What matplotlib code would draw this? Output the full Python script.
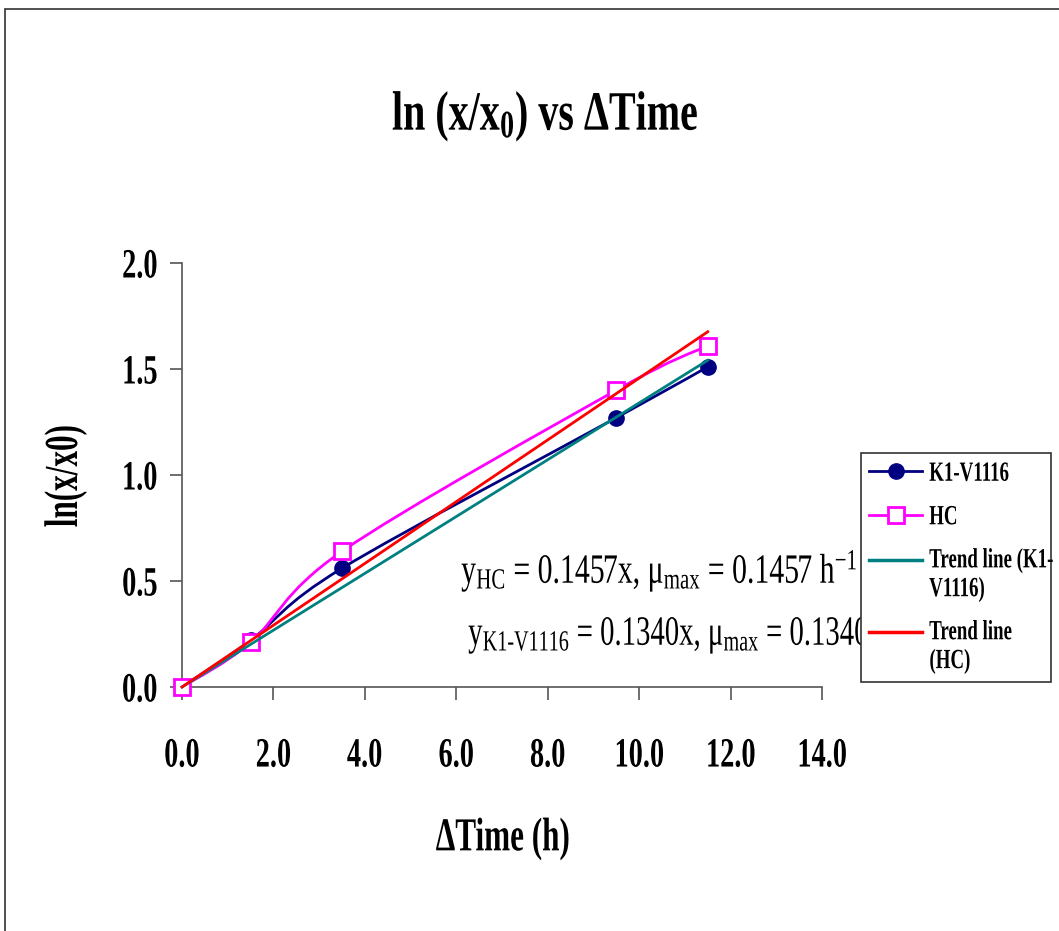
import numpy as np
import matplotlib
matplotlib.use("Agg")
import matplotlib.pyplot as plt
from matplotlib.patheffects import AbstractPathEffect
from matplotlib.transforms import Affine2D
from matplotlib.patches import Rectangle, PathPatch
from matplotlib.path import Path
from matplotlib.lines import Line2D
from matplotlib.legend_handler import HandlerLine2D

# ---------------- data ----------------
time_h = [0.0, 1.5, 3.5, 9.5, 11.5]
k1_v1116 = [0.0, 0.22, 0.56, 1.27, 1.51]
hc = [0.0, 0.21, 0.64, 1.40, 1.61]
slope_k1 = 0.1340
slope_hc = 0.1457
xticks = [0, 2, 4, 6, 8, 10, 12, 14]
xtick_labels = ["0.0", "2.0", "4.0", "6.0", "8.0", "10.0", "12.0", "14.0"]
yticks = [0.0, 0.5, 1.0, 1.5, 2.0]
ytick_labels = ["0.0", "0.5", "1.0", "1.5", "2.0"]
series_names = ["K1-V1116", "HC", "Trend line (K1-\nV1116)", "Trend line\n(HC)"]

plt.rcParams["font.family"] = ["Liberation Serif", "DejaVu Serif"]
plt.rcParams["mathtext.fontset"] = "custom"
plt.rcParams["mathtext.rm"] = "Liberation Serif"
plt.rcParams["mathtext.it"] = "Liberation Serif:italic"
plt.rcParams["mathtext.bf"] = "Liberation Serif:bold"


class Condense(AbstractPathEffect):
    """Horizontally condense a text glyph path (like a narrow typeface)."""
    def __init__(self, sx=0.7, anchor="center"):
        super().__init__()
        self.sx = sx
        self.anchor = anchor

    def draw_path(self, renderer, gc, tpath, affine, rgbFace=None):
        ext = tpath.get_extents()
        if self.anchor == "left":
            cx = ext.x0
        elif self.anchor == "right":
            cx = ext.x1
        else:
            cx = 0.5 * (ext.x0 + ext.x1)
        pre = Affine2D().translate(-cx, 0).scale(self.sx, 1.0).translate(cx, 0)
        renderer.draw_path(gc, tpath, pre + affine, rgbFace)


class HandlerTopLine(HandlerLine2D):
    """Legend line handle placed at the first line of a two-line label."""
    def __init__(self, dy=0.0, **kw):
        super().__init__(**kw)
        self.dy = dy

    def create_artists(self, legend, orig_handle, xdescent, ydescent,
                       width, height, fontsize, trans):
        arts = super().create_artists(legend, orig_handle, xdescent, ydescent,
                                      width, height, fontsize, trans)
        for a in arts:
            a.set_ydata(np.asarray(a.get_ydata(), float) + self.dy)
        return arts


def smooth_path(xs, ys):
    P = np.column_stack([xs, ys]).astype(float)
    m = len(P)
    verts = [P[0]]
    codes = [Path.MOVETO]
    for i in range(m - 1):
        p0 = P[i - 1] if i > 0 else P[i]
        p1, p2 = P[i], P[i + 1]
        p3 = P[i + 2] if i + 2 < m else P[i + 1]
        c1 = p1 + (p2 - p0) / 6.0
        c2 = p2 - (p3 - p1) / 6.0
        verts += [c1, c2, p2]
        codes += [Path.CURVE4] * 3
    return Path(verts, codes)


W, H = 1059, 931
fig = plt.figure(figsize=(W / 100, H / 100), dpi=100)
fig.patch.set_facecolor("white")

# outer chart border (left and top visible)
fig.patches.append(Rectangle((4.5 / W, -0.05), 1.2, 1.05 - 9.5 / H,
                             transform=fig.transFigure, fill=False,
                             edgecolor="#333333", linewidth=1.2))

ax = fig.add_axes([182 / W, 1 - 687 / H, 640 / W, 424 / H])
ax.set_xlim(0, 14)
ax.set_ylim(0, 2.0)
for s in ("top", "right"):
    ax.spines[s].set_visible(False)
for s in ("left", "bottom"):
    ax.spines[s].set_color("#555555")
    ax.spines[s].set_linewidth(1.2)

navy, magenta, teal, red = "#000080", "#FF00FF", "#008080", "#FF0000"

# K1-V1116 smoothed line + markers
ax.add_patch(PathPatch(smooth_path(time_h, k1_v1116), fill=False, edgecolor=navy,
                       linewidth=2.0, zorder=2))
ax.plot(time_h, k1_v1116, linestyle="none", marker="o", markersize=11,
        color=navy, zorder=3, clip_on=False)
# HC smoothed line + markers
ax.add_patch(PathPatch(smooth_path(time_h, hc), fill=False, edgecolor=magenta,
                       linewidth=2.0, zorder=4))
ax.plot(time_h, hc, linestyle="none", marker="s", markersize=12,
        markerfacecolor="white", markeredgecolor=magenta, markeredgewidth=2.0,
        zorder=5, clip_on=False)
# trend lines
xfit = np.array([time_h[0], time_h[-1]])
ax.plot(xfit, slope_k1 * xfit, color=teal, linewidth=2.0, zorder=6, clip_on=False)
ax.plot(xfit, slope_hc * xfit, color=red, linewidth=2.0, zorder=7, clip_on=False)

# ticks
ax.set_xticks(xticks)
ax.set_xticklabels(xtick_labels)
ax.set_yticks(yticks)
ax.set_yticklabels(ytick_labels)
ax.tick_params(axis="x", direction="out", length=9.4, width=1.2, color="#555555",
               pad=27, labelsize=30)
ax.tick_params(axis="y", direction="out", length=8.6, width=1.2, color="#555555",
               pad=8.6, labelsize=30)
for t in ax.xaxis.get_major_ticks():
    t.label1.set_fontweight("bold")
    t.label1.set_path_effects([Condense(0.68, "center")])
for t in ax.yaxis.get_major_ticks():
    t.label1.set_fontweight("bold")
    t.label1.set_path_effects([Condense(0.68, "right")])

# axis labels
ax.set_xlabel("ΔTime (h)", fontsize=34, fontweight="bold",
              path_effects=[Condense(0.66, "center")])
ax.xaxis.set_label_coords((503 - 182) / 640, (687 - 818) / 424)
ax.set_ylabel("ln(x/x0)", fontsize=34, fontweight="bold",
              path_effects=[Condense(0.66, "center")])
ax.yaxis.set_label_coords((87 - 182) / 640, (687 - 476) / 424)

# title
fig.text(545 / W, 1 - 130 / H, r"ln (x/x$_{\mathbf{0}}$) vs ΔTime", fontsize=40,
         fontweight="bold", ha="center", va="baseline",
         path_effects=[Condense(0.72, "center")])

# equations
ax.text((461 - 182) / 640, (687 - 583) / 424,
        r"y$_{\mathrm{HC}}$ = 0.1457x, μ$_{\mathrm{max}}$ = 0.1457 h$^{-1}$",
        transform=ax.transAxes, fontsize=30, ha="left", va="baseline",
        path_effects=[Condense(0.715, "left")], clip_on=False, zorder=8)
ax.text((468 - 182) / 640, (687 - 645) / 424,
        r"y$_{\mathrm{K1\text{-}V1116}}$ = 0.1340x, μ$_{\mathrm{max}}$ = 0.1340 h$^{-1}$",
        transform=ax.transAxes, fontsize=30, ha="left", va="baseline",
        path_effects=[Condense(0.69, "left")], clip_on=False, zorder=8)

# legend
handles = [
    Line2D([], [], color=navy, linewidth=2.0, marker="o", markersize=11),
    Line2D([], [], color=magenta, linewidth=2.0, marker="s", markersize=12,
           markerfacecolor="white", markeredgewidth=2.0),
    Line2D([], [], color=teal, linewidth=2.5),
    Line2D([], [], color=red, linewidth=2.5),
]
leg = ax.legend(handles, series_names, loc="upper left",
                bbox_to_anchor=(861 / W, 1 - 677 / H, 190 / W, 224 / H),
                bbox_transform=fig.transFigure, mode="expand", borderaxespad=0,
                fancybox=False, edgecolor="#333333", framealpha=1,
                prop={"weight": "bold", "size": 20}, labelspacing=0.65,
                handlelength=1.9, handletextpad=0.25, borderpad=0.3,
                handler_map={handles[2]: HandlerTopLine(dy=11.0),
                             handles[3]: HandlerTopLine(dy=11.0)})
leg.get_frame().set_linewidth(1.2)
leg.set_zorder(20)
for txt in leg.get_texts():
    txt.set_path_effects([Condense(0.68, "left")])

fig.savefig("out.png", dpi=100)
